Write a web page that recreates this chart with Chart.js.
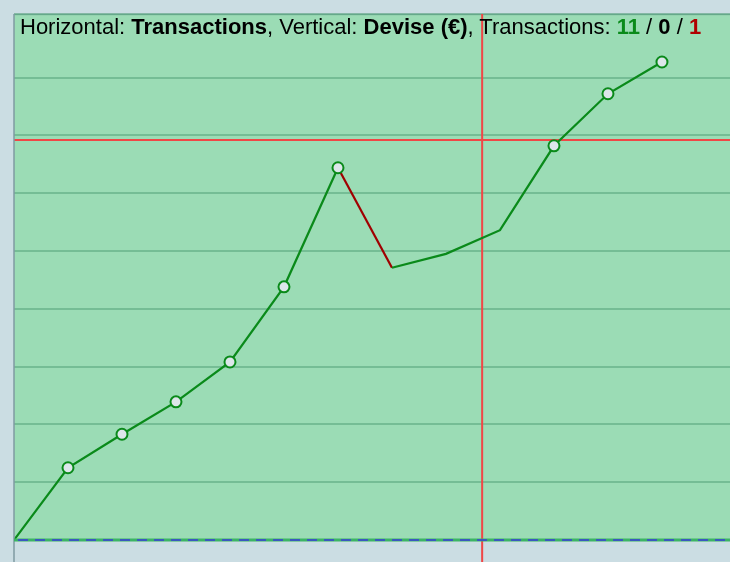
<!DOCTYPE html>
<html>
<head>
<meta charset="utf-8">
<script src="https://cdn.jsdelivr.net/npm/chart.js"></script>
<style>
  html, body { margin: 0; padding: 0; background: #cbdde3; }
  #wrap { position: relative; width: 730px; height: 562px; }
  #title {
    position: absolute; left: 20px; top: 14px;
    font-family: "Liberation Sans", Arial, sans-serif; font-size: 22px; color: #000;
    white-space: nowrap;
  }
  #title b { font-weight: bold; }
  .ok { color: #0a8a1a; }
  .ko { color: #b00000; }
</style>
</head>
<body>
<div id="wrap">
  <canvas id="c" width="730" height="562"></canvas>
  <div id="title">Horizontal: <b>Transactions</b>, Vertical: <b>Devise (€)</b>, Transactions: <b class="ok">11</b> / <b>0</b> / <b class="ko">1</b></div>
</div>
<script>
// transaction index and running balance
const txIndex = [0, 1, 2, 3, 4, 5, 6, 7, 8, 9, 10, 11, 12];
const balance = [0, 1.25, 1.83, 2.39, 3.08, 4.38, 6.44, 4.71, 4.95, 5.36, 6.82, 7.72, 8.27];
const markers = [0, 5.5, 5.5, 5.5, 5.5, 5.5, 5.5, 0, 0, 0, 5.5, 5.5, 5.5];
const losingSegment = 6;

// reference lines
const refLevel = 6.92;
const refTx = 8.67;

const xMax = 13.26;
const yMax = 9.1;

const areaBg = {
    id: 'areaBg',
    beforeDraw(chart) {
        const { ctx, chartArea: a } = chart;
        ctx.save();
        ctx.fillStyle = '#9bdcb5';
        ctx.fillRect(a.left, a.top, a.right - a.left, a.bottom - a.top);
        ctx.strokeStyle = '#7fb8a0';
        ctx.lineWidth = 1.5;
        ctx.beginPath();
        ctx.moveTo(a.left, a.top + 0.5);
        ctx.lineTo(a.right, a.top + 0.5);
        ctx.stroke();
        ctx.restore();
    },
    afterDatasetsDraw(chart) {
        const { ctx, chartArea: a } = chart;
        ctx.save();
        // left border runs down to the bottom of the canvas
        ctx.strokeStyle = '#7f9aa2';
        ctx.lineWidth = 1.5;
        ctx.beginPath();
        ctx.moveTo(a.left, a.top);
        ctx.lineTo(a.left, chart.height);
        ctx.stroke();
        // baseline: green with blue dashes
        const y0 = chart.scales.y.getPixelForValue(0);
        ctx.strokeStyle = '#3cb464';
        ctx.lineWidth = 3;
        ctx.beginPath();
        ctx.moveTo(a.left, y0);
        ctx.lineTo(a.right, y0);
        ctx.stroke();
        ctx.strokeStyle = '#3a3adc';
        ctx.lineWidth = 1.5;
        ctx.setLineDash([10, 7]);
        ctx.beginPath();
        ctx.moveTo(a.left + 4, y0);
        ctx.lineTo(a.right, y0);
        ctx.stroke();
        ctx.restore();
    }
};

const points = txIndex.map((x, i) => ({ x: x, y: balance[i] }));

new Chart(document.getElementById('c'), {
    type: 'line',
    data: {
        datasets: [
            {
                data: points,
                borderColor: '#0a8a1a',
                borderWidth: 2.2,
                pointRadius: markers,
                pointHoverRadius: markers,
                pointBackgroundColor: '#dde6ea',
                pointBorderColor: '#0a8a1a',
                pointBorderWidth: 2,
                tension: 0,
                segment: {
                    borderColor: ctx => ctx.p0DataIndex === losingSegment ? '#a00000' : undefined
                },
                order: 0
            },
            {
                data: [{ x: 0, y: refLevel }, { x: xMax, y: refLevel }],
                borderColor: '#f04646',
                borderWidth: 2,
                pointRadius: 0,
                order: 1
            },
            {
                data: [{ x: refTx, y: yMax }, { x: refTx, y: -0.4 }],
                borderColor: '#f04646',
                borderWidth: 2,
                pointRadius: 0,
                clip: false,
                order: 1
            }
        ]
    },
    options: {
        responsive: false,
        animation: false,
        layout: { autoPadding: false, padding: { left: 14, top: 14, right: 0, bottom: 22 } },
        plugins: {
            legend: { display: false },
            tooltip: { enabled: false }
        },
        scales: {
            x: {
                type: 'linear',
                min: 0,
                max: xMax,
                display: false
            },
            y: {
                min: 0,
                max: yMax,
                ticks: { display: false, stepSize: 1 },
                grid: {
                    color: 'rgba(70, 150, 110, 0.45)',
                    lineWidth: 2,
                    drawTicks: false
                },
                border: { display: false }
            }
        }
    },
    plugins: [areaBg]
});
</script>
</body>
</html>
